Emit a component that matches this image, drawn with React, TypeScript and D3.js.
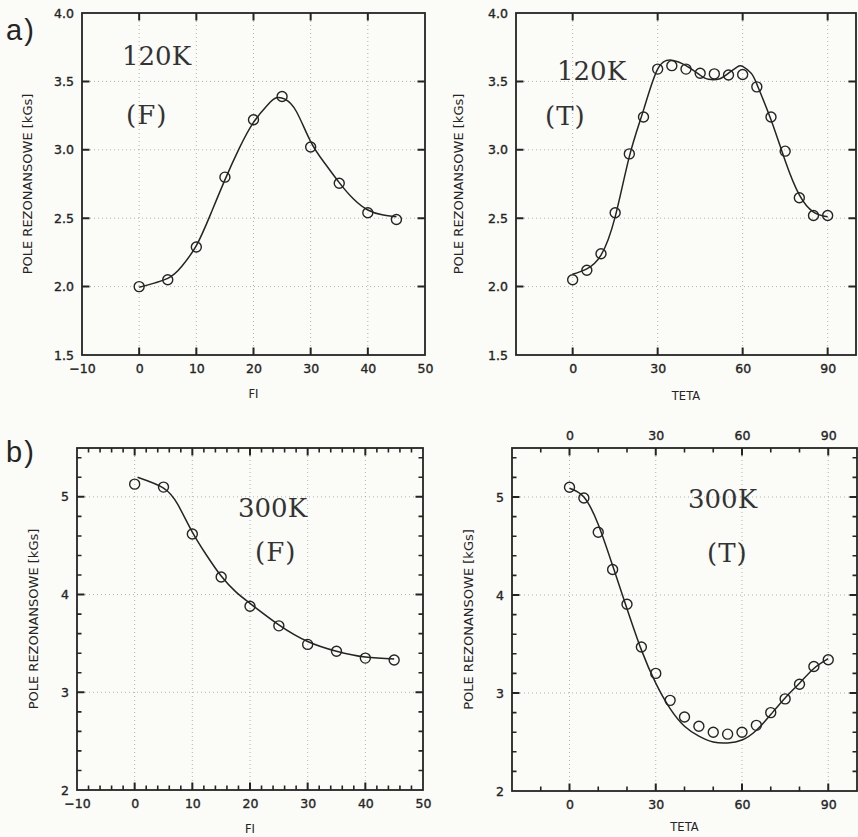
import { useEffect, useRef } from 'react'
import * as d3 from 'd3'

// Measured angles
const fiAngles = [0, 5, 10, 15, 20, 25, 30, 35, 40, 45]
const tetaAngles = [0, 5, 10, 15, 20, 25, 30, 35, 40, 45, 50, 55, 60, 65, 70, 75, 80, 85, 90]

// Measured resonance fields [kGs]
const fi120Measured = [2.0, 2.05, 2.29, 2.8, 3.22, 3.39, 3.02, 2.755, 2.54, 2.49]
const teta120Measured = [2.05, 2.12, 2.24, 2.54, 2.97, 3.24, 3.59, 3.615, 3.59, 3.56, 3.555, 3.547, 3.55, 3.46, 3.24, 2.99, 2.65, 2.52, 2.52]
const fi300Measured = [5.13, 5.1, 4.62, 4.18, 3.88, 3.68, 3.49, 3.42, 3.35, 3.33]
const teta300Measured = [5.1, 4.99, 4.64, 4.26, 3.905, 3.47, 3.2, 2.925, 2.755, 2.66, 2.6, 2.58, 2.6, 2.67, 2.8, 2.94, 3.09, 3.27, 3.34]

// Fitted curves
const fi120FitAngles = [0, 5, 7.5, 10, 12.5, 15, 17.5, 20, 22.5, 24, 25.5, 27.5, 30, 32.5, 35, 37.5, 40, 42.5, 45]
const fi120FitValues = [1.995, 2.06, 2.15, 2.3, 2.53, 2.78, 3.01, 3.2, 3.33, 3.38, 3.37, 3.28, 3.06, 2.9, 2.76, 2.64, 2.56, 2.525, 2.51]
const teta120FitAngles = [0, 5, 10, 15, 20, 25, 30, 35, 40, 45, 48, 52, 55, 58, 60, 63, 65, 70, 75, 80, 85, 90]
const teta120FitValues = [2.09, 2.13, 2.23, 2.51, 2.95, 3.29, 3.59, 3.655, 3.615, 3.545, 3.515, 3.52, 3.56, 3.605, 3.61, 3.56, 3.48, 3.22, 2.92, 2.67, 2.545, 2.51]
const fi300FitAngles = [0.5, 5, 7.5, 10, 12.5, 15, 17.5, 20, 25, 30, 35, 40, 45]
const fi300FitValues = [5.2, 5.09, 4.92, 4.64, 4.4, 4.19, 4.03, 3.91, 3.69, 3.52, 3.42, 3.36, 3.34]
const teta300FitAngles = [0, 5, 10, 15, 20, 25, 30, 35, 40, 45, 50, 55, 60, 65, 70, 75, 80, 85, 90]
const teta300FitValues = [5.09, 5.0, 4.72, 4.3, 3.86, 3.44, 3.1, 2.84, 2.66, 2.56, 2.5, 2.49, 2.52, 2.62, 2.78, 2.95, 3.1, 3.25, 3.35]

// Tick values
const fiTicks = [-10, 0, 10, 20, 30, 40, 50]
const tetaTicks = [0, 30, 60, 90]
const field120Ticks = [1.5, 2.0, 2.5, 3.0, 3.5, 4.0]
const field300Ticks = [2, 3, 4, 5]

const INK = '#242424'
const SANS = '"DejaVu Sans", sans-serif'
const SERIF = '"DejaVu Serif", serif'

const panels = [
  {
    left: 82, top: 13, width: 343, height: 342,
    xDomain: [-10, 50], yDomain: [1.5, 4.0],
    xTicks: fiTicks, yTicks: field120Ticks, yFormat: '.1f',
    xMinor: null, yMinor: null, topLabels: false,
    angles: fiAngles, measured: fi120Measured,
    fitAngles: fi120FitAngles, fitValues: fi120FitValues,
    xLabel: 'FI', xLabelY: 398, yLabelX: 32,
    temp: '120K', tempX: 122, tempY: 65, mode: '(F)', modeX: 126, modeY: 124,
  },
  {
    left: 516, top: 13, width: 340, height: 342,
    xDomain: [-20, 100], yDomain: [1.5, 4.0],
    xTicks: tetaTicks, yTicks: field120Ticks, yFormat: '.1f',
    xMinor: null, yMinor: null, topLabels: false,
    angles: tetaAngles, measured: teta120Measured,
    fitAngles: teta120FitAngles, fitValues: teta120FitValues,
    xLabel: 'TETA', xLabelY: 400, yLabelX: 463,
    temp: '120K', tempX: 557, tempY: 80, mode: '(T)', modeX: 545, modeY: 125,
  },
  {
    left: 77, top: 448, width: 346, height: 342,
    xDomain: [-10, 50], yDomain: [2, 5.5],
    xTicks: fiTicks, yTicks: field300Ticks, yFormat: 'd',
    xMinor: 2, yMinor: 0.2, topLabels: false,
    angles: fiAngles, measured: fi300Measured,
    fitAngles: fi300FitAngles, fitValues: fi300FitValues,
    xLabel: 'FI', xLabelY: 833, yLabelX: 38,
    temp: '300K', tempX: 238, tempY: 517, mode: '(F)', modeX: 255, modeY: 561,
  },
  {
    left: 512, top: 448, width: 345, height: 343,
    xDomain: [-20, 100], yDomain: [2, 5.5],
    xTicks: tetaTicks, yTicks: field300Ticks, yFormat: 'd',
    xMinor: 10, yMinor: 0.2, topLabels: true,
    angles: tetaAngles, measured: teta300Measured,
    fitAngles: teta300FitAngles, fitValues: teta300FitValues,
    xLabel: 'TETA', xLabelY: 831, yLabelX: 473,
    temp: '300K', tempX: 688, tempY: 508, mode: '(T)', modeX: 707, modeY: 562,
  },
]

// Minor tick positions strictly inside the domain, skipping the major ones
function minorTicks(domain, step, majors) {
  const n = Math.floor((domain[1] - domain[0]) / step + 1e-6)
  return d3
    .range(1, n + 1)
    .map((i) => +(domain[0] + i * step).toFixed(4))
    .filter((v) => v < domain[1] - 1e-6)
    .filter((v) => !majors.some((m) => Math.abs(m - v) < 1e-6))
}

// Inward tick marks on all four sides of the frame, as one path
function drawTicks(g, p, x, y, xs, ys, len, width) {
  const xIn = xs.filter((v) => v > p.xDomain[0] && v < p.xDomain[1])
  const yIn = ys.filter((v) => v > p.yDomain[0] && v < p.yDomain[1])
  const path = d3.path()
  xIn.forEach((v) => {
    path.moveTo(x(v), p.height)
    path.lineTo(x(v), p.height - len)
    path.moveTo(x(v), 0)
    path.lineTo(x(v), len)
  })
  yIn.forEach((v) => {
    path.moveTo(0, y(v))
    path.lineTo(len, y(v))
    path.moveTo(p.width, y(v))
    path.lineTo(p.width - len, y(v))
  })
  g.append('path')
    .attr('d', path.toString())
    .attr('fill', 'none')
    .attr('stroke', INK)
    .attr('stroke-width', width)
}

function styleLabels(ag) {
  ag.select('.domain').remove()
  ag.selectAll('line').remove()
  ag.selectAll('text')
    .attr('fill', INK)
    .attr('stroke', INK)
    .attr('stroke-width', 0.35)
    .style('font-family', SANS)
    .style('font-size', '12.5px')
}

function drawPanel(root, p) {
  const g = root.append('g').attr('transform', `translate(${p.left},${p.top})`)
  const x = d3.scaleLinear().domain(p.xDomain).range([0, p.width])
  const y = d3.scaleLinear().domain(p.yDomain).range([p.height, 0])

  // Dotted grid at the major ticks
  g.selectAll('.vgrid')
    .data(p.xTicks.filter((t) => t > p.xDomain[0] && t < p.xDomain[1]))
    .join('line')
    .attr('x1', (d) => x(d))
    .attr('x2', (d) => x(d))
    .attr('y1', 0)
    .attr('y2', p.height)
    .attr('stroke', '#a0a0a0')
    .attr('stroke-width', 0.8)
    .attr('stroke-dasharray', '1,3')
  g.selectAll('.hgrid')
    .data(p.yTicks.filter((t) => t > p.yDomain[0] && t < p.yDomain[1]))
    .join('line')
    .attr('x1', 0)
    .attr('x2', p.width)
    .attr('y1', (d) => y(d))
    .attr('y2', (d) => y(d))
    .attr('stroke', '#a0a0a0')
    .attr('stroke-width', 0.8)
    .attr('stroke-dasharray', '1,3')

  // Tick labels
  const xFmt = d3.format('d')
  g.append('g')
    .attr('transform', `translate(0,${p.height})`)
    .call(d3.axisBottom(x).tickValues(p.xTicks).tickFormat(xFmt).tickSize(0).tickPadding(9.5))
    .call(styleLabels)
  if (p.topLabels) {
    g.append('g')
      .call(d3.axisTop(x).tickValues(p.xTicks).tickFormat(xFmt).tickSize(0).tickPadding(8))
      .call(styleLabels)
  }
  g.append('g')
    .call(d3.axisLeft(y).tickValues(p.yTicks).tickFormat(d3.format(p.yFormat)).tickSize(0).tickPadding(8))
    .call(styleLabels)

  // Frame
  g.append('rect')
    .attr('width', p.width)
    .attr('height', p.height)
    .attr('fill', 'none')
    .attr('stroke', INK)
    .attr('stroke-width', 1.8)

  // Tick marks
  drawTicks(g, p, x, y, p.xTicks, p.yTicks, 7.5, 2)
  if (p.xMinor) drawTicks(g, p, x, y, minorTicks(p.xDomain, p.xMinor, p.xTicks), [], 4.5, 1.6)
  if (p.yMinor) drawTicks(g, p, x, y, [], minorTicks(p.yDomain, p.yMinor, p.yTicks), 4.5, 1.6)

  // Fitted curve
  const line = d3
    .line()
    .x((d) => x(d[0]))
    .y((d) => y(d[1]))
    .curve(d3.curveNatural)
  g.append('path')
    .attr('d', line(p.fitAngles.map((a, i) => [a, p.fitValues[i]])))
    .attr('fill', 'none')
    .attr('stroke', INK)
    .attr('stroke-width', 1.5)

  // Measured points
  g.selectAll('.pt')
    .data(p.angles.map((a, i) => [a, p.measured[i]]))
    .join('circle')
    .attr('cx', (d) => x(d[0]))
    .attr('cy', (d) => y(d[1]))
    .attr('r', 5)
    .attr('fill', 'none')
    .attr('stroke', INK)
    .attr('stroke-width', 1.4)

  // Axis titles
  root.append('text')
    .attr('x', p.left + p.width / 2)
    .attr('y', p.xLabelY)
    .attr('text-anchor', 'middle')
    .attr('fill', INK)
    .style('font-family', SANS)
    .style('font-size', '11.5px')
    .text(p.xLabel)
  root.append('text')
    .attr('transform', `translate(${p.yLabelX},${p.top + p.height / 2}) rotate(-90)`)
    .attr('text-anchor', 'middle')
    .attr('fill', INK)
    .style('font-family', SANS)
    .style('font-size', '13px')
    .text('POLE REZONANSOWE [kGs]')

  // Temperature and geometry labels
  root.append('text')
    .attr('x', p.tempX)
    .attr('y', p.tempY)
    .attr('fill', '#333')
    .style('font-family', SERIF)
    .style('font-size', '26px')
    .text(p.temp)
  root.append('text')
    .attr('x', p.modeX)
    .attr('y', p.modeY)
    .attr('fill', '#333')
    .style('font-family', SERIF)
    .style('font-size', '26px')
    .style('letter-spacing', '1px')
    .text(p.mode)
}

const App = () => {
  const svgRef = useRef(null)

  useEffect(() => {
    const svg = d3.select(svgRef.current)
    svg.selectAll('*').remove()
    svg.append('rect').attr('width', 858).attr('height', 837).attr('fill', '#fbfbf7')

    panels.forEach((p) => drawPanel(svg, p))

    // Part letters
    ;[['a)', 40], ['b)', 462]].forEach(([t, yy]) => {
      svg.append('text')
        .attr('x', 6)
        .attr('y', yy)
        .attr('fill', INK)
        .style('font-family', '"Liberation Sans", sans-serif')
        .style('font-size', '29px')
        .style('letter-spacing', '2px')
        .text(t)
    })
  }, [])

  return (
    <svg
      ref={svgRef}
      width={858}
      height={837}
      style={{ position: 'absolute', left: 0, top: 0 }}
    />
  )
}

export default App
